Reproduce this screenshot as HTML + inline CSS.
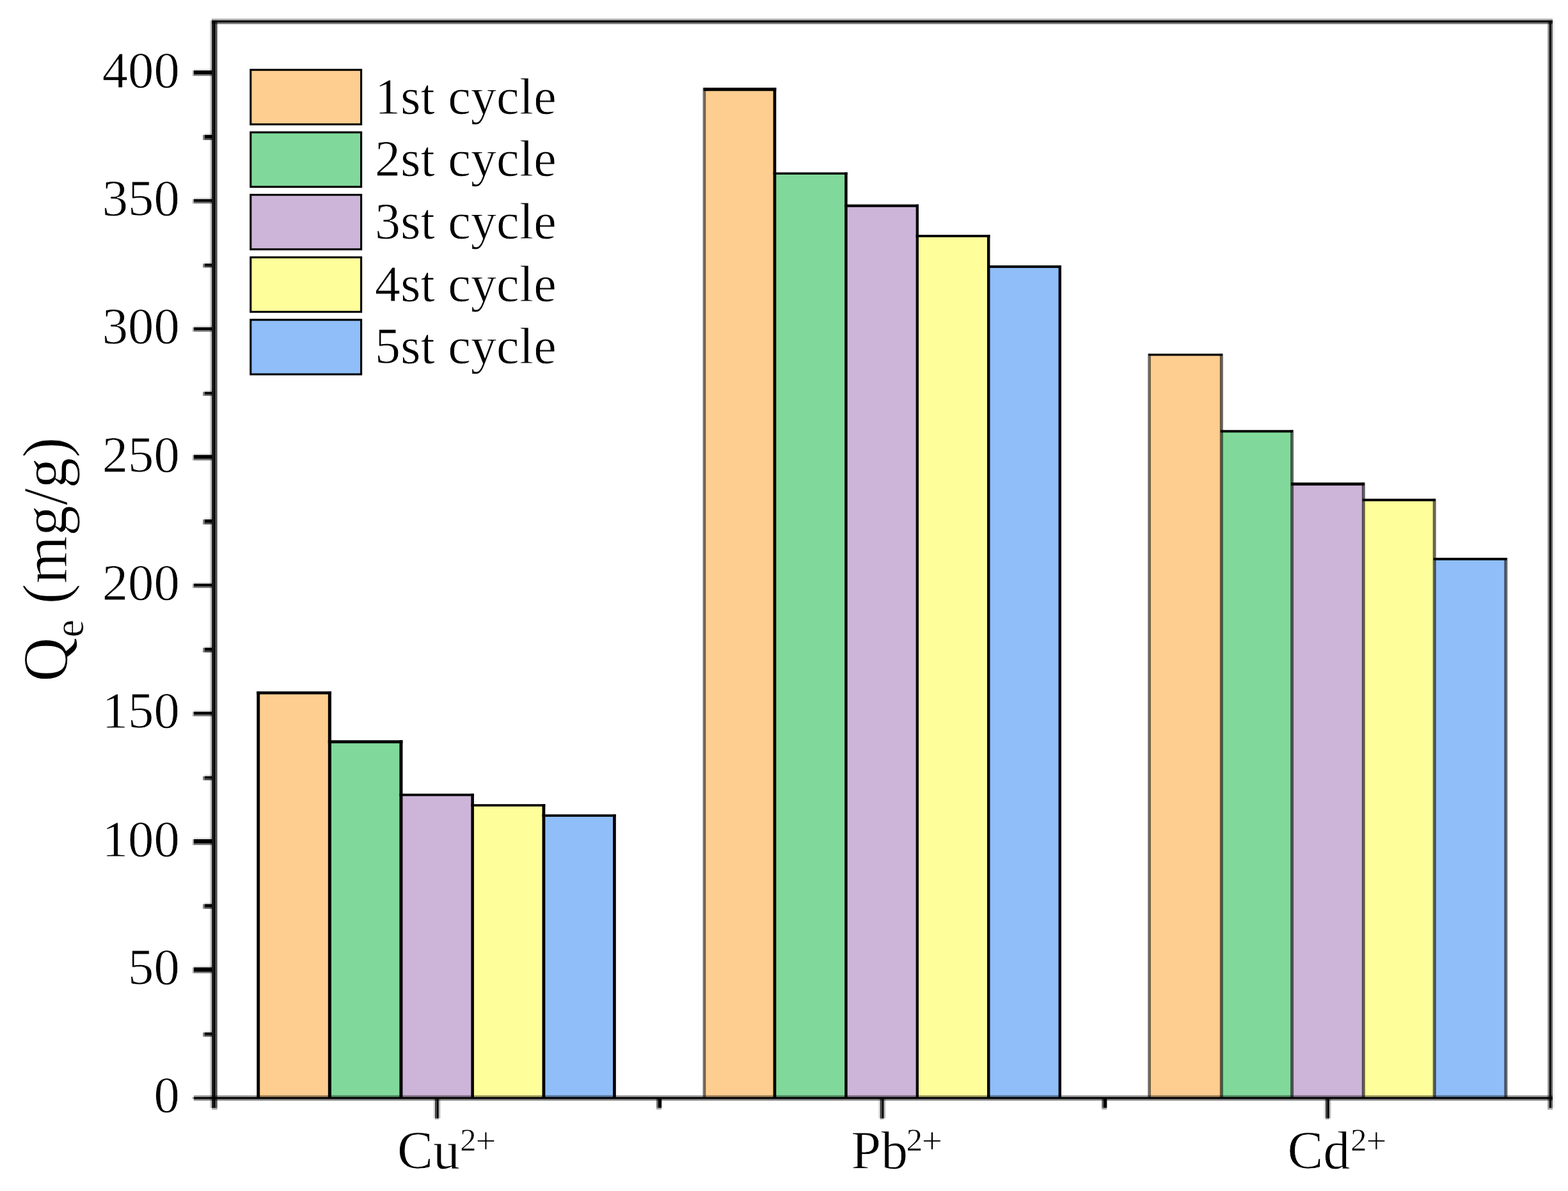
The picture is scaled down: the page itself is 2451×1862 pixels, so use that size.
<!DOCTYPE html>
<html lang="en"><head><meta charset="utf-8"><title>Qe (mg/g)</title>
<style>html,body{margin:0;padding:0;background:#fff;}svg{display:block;width:100vw;height:100vh;}text{font-family:'Liberation Serif', 'Times New Roman', serif;fill:#000;}</style>
</head><body>
<svg viewBox="0 0 2451 1862" preserveAspectRatio="none">
<rect x="0" y="0" width="2451" height="1862" fill="#ffffff"/>
<g stroke="none">
<rect x="403.8" y="1083.2" width="111.6" height="633.3" fill="#FECE90"/>
<rect x="515.3" y="1159.7" width="111.6" height="556.8" fill="#80D99A"/>
<rect x="626.9" y="1242.7" width="111.7" height="473.8" fill="#CDB5D9"/>
<rect x="738.6" y="1259.0" width="111.3" height="457.5" fill="#FEFE9B"/>
<rect x="849.9" y="1275.1" width="110.5" height="441.4" fill="#8FBEF8"/>
<rect x="1101.0" y="139.7" width="109.9" height="1576.8" fill="#FECE90"/>
<rect x="1210.9" y="271.2" width="111.5" height="1445.3" fill="#80D99A"/>
<rect x="1322.5" y="321.7" width="111.4" height="1394.8" fill="#CDB5D9"/>
<rect x="1433.8" y="369.0" width="111.4" height="1347.5" fill="#FEFE9B"/>
<rect x="1545.2" y="416.9" width="111.5" height="1299.6" fill="#8FBEF8"/>
<rect x="1796.6" y="554.6" width="112.7" height="1161.9" fill="#FECE90"/>
<rect x="1909.3" y="674.2" width="110.3" height="1042.2" fill="#80D99A"/>
<rect x="2019.6" y="756.8" width="111.7" height="959.8" fill="#CDB5D9"/>
<rect x="2131.3" y="781.7" width="110.9" height="934.8" fill="#FEFE9B"/>
<rect x="2242.2" y="874.0" width="111.7" height="842.5" fill="#8FBEF8"/>
</g>
<g fill="#000" stroke="none">
<rect x="401.3" y="1080.9" width="116.6" height="4.6"/>
<rect x="512.8" y="1157.3" width="116.6" height="4.8"/>
<rect x="624.4" y="1240.8" width="116.5" height="3.8"/>
<rect x="736.3" y="1257.2" width="116.0" height="3.6"/>
<rect x="847.5" y="1273.2" width="115.3" height="3.7"/>
<rect x="401.3" y="1080.9" width="4.9" height="635.6"/>
<rect x="512.8" y="1080.9" width="5.1" height="635.6"/>
<rect x="624.4" y="1157.3" width="5.0" height="559.2"/>
<rect x="736.3" y="1240.8" width="4.6" height="475.7"/>
<rect x="847.5" y="1257.2" width="4.8" height="459.3"/>
<rect x="958.0" y="1273.2" width="4.8" height="443.3"/>
<rect x="1099.7" y="137.1" width="113.6" height="5.2"/>
<rect x="1208.6" y="269.5" width="116.1" height="3.4"/>
<rect x="1320.2" y="319.6" width="115.8" height="4.2"/>
<rect x="1431.7" y="367.1" width="115.8" height="3.8"/>
<rect x="1543.0" y="414.9" width="116.0" height="4.0"/>
<rect x="1098.6" y="137.1" width="4.7" height="1579.4" fill-opacity="0.55"/>
<rect x="1208.6" y="137.1" width="4.7" height="1579.4"/>
<rect x="1320.2" y="269.5" width="4.5" height="1447.0"/>
<rect x="1431.7" y="319.6" width="4.3" height="1396.9"/>
<rect x="1543.0" y="367.1" width="4.5" height="1349.4"/>
<rect x="1654.6" y="414.9" width="4.4" height="1301.6"/>
<rect x="1795.3" y="552.9" width="115.5" height="3.4"/>
<rect x="1907.8" y="672.3" width="113.3" height="3.9"/>
<rect x="2018.1" y="754.4" width="114.7" height="4.7"/>
<rect x="2129.8" y="779.7" width="113.9" height="3.9"/>
<rect x="2240.7" y="872.0" width="114.7" height="4.0"/>
<rect x="1794.2" y="552.9" width="4.7" height="1163.6" fill-opacity="0.55"/>
<rect x="1906.8" y="552.9" width="5.0" height="1163.6" fill-opacity="0.60"/>
<rect x="2017.1" y="672.3" width="5.0" height="1044.2" fill-opacity="0.60"/>
<rect x="2128.8" y="754.4" width="5.0" height="962.1" fill-opacity="0.60"/>
<rect x="2239.7" y="779.7" width="5.0" height="936.8" fill-opacity="0.60"/>
<rect x="2351.4" y="872.0" width="5.0" height="844.5" fill-opacity="0.60"/>
</g>
<g fill="#000" stroke="none">
<rect x="331.00" y="29.20" width="2096.00" height="2.70" fill-opacity="0.33"/>
<rect x="331.00" y="31.90" width="2096.00" height="3.00" fill-opacity="1.00"/>
<rect x="331.00" y="34.90" width="2096.00" height="2.70" fill-opacity="0.56"/>
<rect x="302.90" y="1712.40" width="2124.10" height="2.70" fill-opacity="0.40"/>
<rect x="302.90" y="1715.10" width="2124.10" height="2.95" fill-opacity="1.00"/>
<rect x="302.90" y="1718.05" width="2124.10" height="2.55" fill-opacity="0.53"/>
<rect x="300.30" y="1715.10" width="2.60" height="2.95" fill-opacity="0.30"/>
<rect x="328.10" y="31.90" width="2.90" height="1700.10" fill-opacity="0.20"/>
<rect x="331.00" y="31.90" width="3.00" height="1700.10" fill-opacity="0.87"/>
<rect x="334.00" y="31.90" width="2.70" height="1700.10" fill-opacity="1.00"/>
<rect x="336.70" y="31.90" width="3.00" height="1700.10" fill-opacity="0.67"/>
<rect x="331.00" y="1732.00" width="8.70" height="2.80" fill-opacity="0.35"/>
<rect x="2419.20" y="31.90" width="2.60" height="1700.10" fill-opacity="0.45"/>
<rect x="2421.80" y="31.90" width="2.90" height="1700.10" fill-opacity="1.00"/>
<rect x="2424.70" y="31.90" width="2.30" height="1700.10" fill-opacity="0.60"/>
<rect x="2427.00" y="31.90" width="2.70" height="1700.10" fill-opacity="0.08"/>
<rect x="2419.20" y="1732.00" width="7.80" height="2.80" fill-opacity="0.35"/>
</g>
<g fill="#000" stroke="none">
<rect x="303.00" y="1509.89" width="29.00" height="2.50" fill-opacity="0.10"/>
<rect x="303.00" y="1512.39" width="29.00" height="6.60" fill-opacity="1.00"/>
<rect x="303.00" y="1518.99" width="29.00" height="2.50" fill-opacity="0.55"/>
<rect x="300.80" y="1512.39" width="2.20" height="9.10" fill-opacity="0.30"/>
<rect x="303.00" y="1309.53" width="29.00" height="2.50" fill-opacity="0.10"/>
<rect x="303.00" y="1312.03" width="29.00" height="6.60" fill-opacity="1.00"/>
<rect x="303.00" y="1318.62" width="29.00" height="2.50" fill-opacity="0.55"/>
<rect x="300.80" y="1312.03" width="2.20" height="9.10" fill-opacity="0.30"/>
<rect x="303.00" y="1110.16" width="29.00" height="2.50" fill-opacity="0.10"/>
<rect x="303.00" y="1112.66" width="29.00" height="4.60" fill-opacity="1.00"/>
<rect x="303.00" y="1117.26" width="29.00" height="2.50" fill-opacity="0.55"/>
<rect x="300.80" y="1112.66" width="2.20" height="7.10" fill-opacity="0.30"/>
<rect x="303.00" y="910.00" width="29.00" height="2.50" fill-opacity="0.10"/>
<rect x="303.00" y="912.50" width="29.00" height="4.20" fill-opacity="1.00"/>
<rect x="303.00" y="916.70" width="29.00" height="2.50" fill-opacity="0.55"/>
<rect x="300.80" y="912.50" width="2.20" height="6.70" fill-opacity="0.30"/>
<rect x="303.00" y="708.74" width="29.00" height="2.50" fill-opacity="0.10"/>
<rect x="303.00" y="711.24" width="29.00" height="6.00" fill-opacity="1.00"/>
<rect x="303.00" y="717.24" width="29.00" height="2.50" fill-opacity="0.55"/>
<rect x="300.80" y="711.24" width="2.20" height="8.50" fill-opacity="0.30"/>
<rect x="303.00" y="509.18" width="29.00" height="2.50" fill-opacity="0.10"/>
<rect x="303.00" y="511.68" width="29.00" height="4.40" fill-opacity="1.00"/>
<rect x="303.00" y="516.08" width="29.00" height="2.50" fill-opacity="0.55"/>
<rect x="300.80" y="511.68" width="2.20" height="6.90" fill-opacity="0.30"/>
<rect x="303.00" y="308.81" width="29.00" height="2.50" fill-opacity="0.10"/>
<rect x="303.00" y="311.31" width="29.00" height="4.40" fill-opacity="1.00"/>
<rect x="303.00" y="315.71" width="29.00" height="2.50" fill-opacity="0.55"/>
<rect x="300.80" y="311.31" width="2.20" height="6.90" fill-opacity="0.30"/>
<rect x="303.00" y="107.70" width="29.00" height="2.50" fill-opacity="0.10"/>
<rect x="303.00" y="110.20" width="29.00" height="5.90" fill-opacity="1.00"/>
<rect x="303.00" y="116.10" width="29.00" height="2.50" fill-opacity="0.55"/>
<rect x="300.80" y="110.20" width="2.20" height="8.40" fill-opacity="0.30"/>
<rect x="319.80" y="1611.67" width="12.20" height="2.50" fill-opacity="0.10"/>
<rect x="319.80" y="1614.17" width="12.20" height="4.10" fill-opacity="1.00"/>
<rect x="319.80" y="1618.27" width="12.20" height="2.40" fill-opacity="0.70"/>
<rect x="317.10" y="1614.17" width="2.70" height="6.50" fill-opacity="0.50"/>
<rect x="319.80" y="1410.91" width="12.20" height="2.50" fill-opacity="0.10"/>
<rect x="319.80" y="1413.41" width="12.20" height="4.90" fill-opacity="1.00"/>
<rect x="319.80" y="1418.31" width="12.20" height="2.40" fill-opacity="0.70"/>
<rect x="317.10" y="1413.41" width="2.70" height="7.30" fill-opacity="0.50"/>
<rect x="319.80" y="1211.04" width="12.20" height="2.50" fill-opacity="0.10"/>
<rect x="319.80" y="1213.54" width="12.20" height="3.90" fill-opacity="1.00"/>
<rect x="319.80" y="1217.44" width="12.20" height="2.40" fill-opacity="0.70"/>
<rect x="317.10" y="1213.54" width="2.70" height="6.30" fill-opacity="0.50"/>
<rect x="319.80" y="1010.18" width="12.20" height="2.50" fill-opacity="0.10"/>
<rect x="319.80" y="1012.68" width="12.20" height="4.90" fill-opacity="1.00"/>
<rect x="319.80" y="1017.58" width="12.20" height="2.40" fill-opacity="0.70"/>
<rect x="317.10" y="1012.68" width="2.70" height="7.30" fill-opacity="0.50"/>
<rect x="319.80" y="809.62" width="12.20" height="2.50" fill-opacity="0.10"/>
<rect x="319.80" y="812.12" width="12.20" height="5.30" fill-opacity="1.00"/>
<rect x="319.80" y="817.42" width="12.20" height="2.40" fill-opacity="0.70"/>
<rect x="317.10" y="812.12" width="2.70" height="7.70" fill-opacity="0.50"/>
<rect x="319.80" y="610.06" width="12.20" height="2.50" fill-opacity="0.10"/>
<rect x="319.80" y="612.56" width="12.20" height="3.70" fill-opacity="1.00"/>
<rect x="319.80" y="616.26" width="12.20" height="2.40" fill-opacity="0.70"/>
<rect x="317.10" y="612.56" width="2.70" height="6.10" fill-opacity="0.50"/>
<rect x="319.80" y="409.69" width="12.20" height="2.50" fill-opacity="0.10"/>
<rect x="319.80" y="412.19" width="12.20" height="3.70" fill-opacity="1.00"/>
<rect x="319.80" y="415.89" width="12.20" height="2.40" fill-opacity="0.70"/>
<rect x="317.10" y="412.19" width="2.70" height="6.10" fill-opacity="0.50"/>
<rect x="319.80" y="208.38" width="12.20" height="2.50" fill-opacity="0.10"/>
<rect x="319.80" y="210.88" width="12.20" height="5.60" fill-opacity="1.00"/>
<rect x="319.80" y="216.48" width="12.20" height="2.40" fill-opacity="0.70"/>
<rect x="317.10" y="210.88" width="2.70" height="8.00" fill-opacity="0.50"/>
<rect x="677.10" y="1718.00" width="2.75" height="30.40" fill-opacity="0.10"/>
<rect x="679.85" y="1718.00" width="2.95" height="30.40" fill-opacity="0.75"/>
<rect x="682.80" y="1718.00" width="2.90" height="30.40" fill-opacity="1.00"/>
<rect x="685.70" y="1718.00" width="2.60" height="30.40" fill-opacity="0.27"/>
<rect x="679.85" y="1748.40" width="5.85" height="1.80" fill-opacity="0.30"/>
<rect x="1372.90" y="1718.00" width="2.75" height="30.40" fill-opacity="0.10"/>
<rect x="1375.65" y="1718.00" width="2.95" height="30.40" fill-opacity="0.75"/>
<rect x="1378.60" y="1718.00" width="2.90" height="30.40" fill-opacity="1.00"/>
<rect x="1381.50" y="1718.00" width="2.60" height="30.40" fill-opacity="0.27"/>
<rect x="1375.65" y="1748.40" width="5.85" height="1.80" fill-opacity="0.30"/>
<rect x="2069.20" y="1718.00" width="2.75" height="30.40" fill-opacity="0.10"/>
<rect x="2071.95" y="1718.00" width="2.95" height="30.40" fill-opacity="0.75"/>
<rect x="2074.90" y="1718.00" width="2.90" height="30.40" fill-opacity="1.00"/>
<rect x="2077.80" y="1718.00" width="2.60" height="30.40" fill-opacity="0.27"/>
<rect x="2071.95" y="1748.40" width="5.85" height="1.80" fill-opacity="0.30"/>
<rect x="1026.10" y="1718.00" width="2.80" height="13.90" fill-opacity="0.60"/>
<rect x="1028.90" y="1718.00" width="5.10" height="13.90" fill-opacity="1.00"/>
<rect x="1034.00" y="1718.00" width="1.00" height="13.90" fill-opacity="0.20"/>
<rect x="1026.10" y="1731.90" width="7.90" height="2.70" fill-opacity="0.35"/>
<rect x="1722.20" y="1718.00" width="2.80" height="13.90" fill-opacity="0.60"/>
<rect x="1725.00" y="1718.00" width="5.10" height="13.90" fill-opacity="1.00"/>
<rect x="1730.10" y="1718.00" width="1.00" height="13.90" fill-opacity="0.20"/>
<rect x="1722.20" y="1731.90" width="7.90" height="2.70" fill-opacity="0.35"/>
</g>
<g stroke="#000" stroke-width="3.1">
<rect x="391.8" y="109.2" width="172.8" height="85.2" fill="#FECE90"/>
<rect x="391.8" y="206.9" width="172.8" height="85.2" fill="#80D99A"/>
<rect x="391.8" y="304.6" width="172.8" height="85.2" fill="#CDB5D9"/>
<rect x="391.8" y="402.3" width="172.8" height="85.2" fill="#FEFE9B"/>
<rect x="391.8" y="500.0" width="172.8" height="85.2" fill="#8FBEF8"/>
</g>
<g font-size="79.9" letter-spacing="0.25" stroke="#fff" stroke-width="0.8">
<text x="586.0" y="177.5">1st cycle</text>
<text x="586.0" y="275.2">2st cycle</text>
<text x="586.0" y="372.9">3st cycle</text>
<text x="586.0" y="470.6">4st cycle</text>
<text x="586.0" y="568.3">5st cycle</text>
</g>
<g font-size="80.6" text-anchor="end" stroke="#fff" stroke-width="0.8">
<text x="280.7" y="1739.4">0</text>
<text x="280.7" y="1539.0">50</text>
<text x="280.7" y="1338.7">100</text>
<text x="280.7" y="1138.3">150</text>
<text x="280.7" y="937.9">200</text>
<text x="280.7" y="737.6">250</text>
<text x="280.7" y="537.2">300</text>
<text x="280.7" y="336.9">350</text>
<text x="280.7" y="136.5">400</text>
</g>
<g font-size="83.8" stroke="#fff" stroke-width="0.8">
<text x="621.0" y="1826.6">Cu<tspan font-size="50.6" stroke-width="0.5" dx="0.4" dy="-27.7">2</tspan><tspan font-size="56.5" stroke-width="0.5" dx="-1.1" dy="3.6">+</tspan></text>
<text x="1330.6" y="1826.6">Pb<tspan font-size="50.6" stroke-width="0.5" dx="-2.3" dy="-27.7">2</tspan><tspan font-size="56.5" stroke-width="0.5" dx="-1.1" dy="3.6">+</tspan></text>
<text x="2012.5" y="1826.6">Cd<tspan font-size="50.6" stroke-width="0.5" dx="0.9" dy="-27.7">2</tspan><tspan font-size="56.5" stroke-width="0.5" dx="-1.1" dy="3.6">+</tspan></text>
</g>
<text font-size="100" stroke="#fff" stroke-width="1.1" text-anchor="middle" transform="translate(104.2 874.6) rotate(-90) scale(0.959 1)">Q<tspan font-size="65.5" stroke-width="0.8" dy="26">e</tspan><tspan dy="-26"> (mg/g)</tspan></text>
</svg>
</body></html>
